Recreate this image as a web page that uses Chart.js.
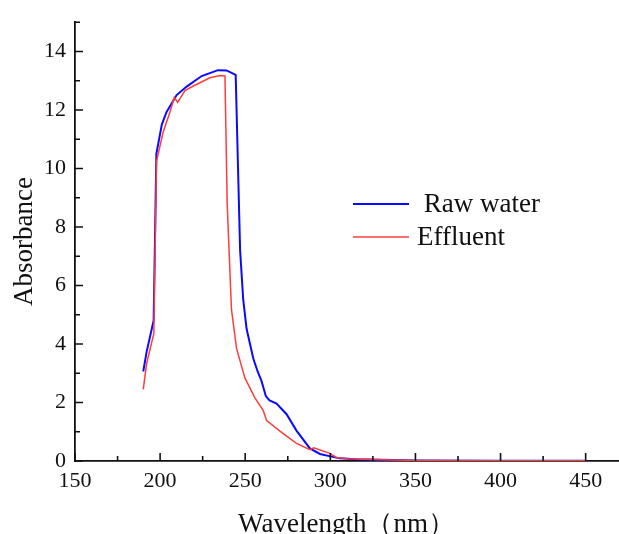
<!DOCTYPE html>
<html>
<head>
<meta charset="utf-8">
<script src="https://cdn.jsdelivr.net/npm/chart.js@4/dist/chart.umd.min.js"></script>
<style>
  html, body { margin: 0; padding: 0; background: #fff; }
  #wrap { width: 619px; height: 534px; }
</style>
</head>
<body>
<div id="wrap"><canvas id="Chart"></canvas></div>
<script>
// values
const rawWl  = [190.1, 192.1, 196.2, 197.8, 201, 203.8, 209.7, 215.6, 224.4, 234, 239, 244.4, 246.3, 247, 248.8, 250.8, 254.7, 257.3, 259.6, 262.1, 264.3, 268.4, 274.3, 280.1, 288, 293.9, 300.7, 305.6, 315, 330, 350, 400, 450];
const rawAbs = [3.06, 3.74, 4.8, 10.5, 11.5, 11.93, 12.51, 12.8, 13.16, 13.36, 13.35, 13.2, 8.8, 7.2, 5.53, 4.52, 3.51, 3.06, 2.73, 2.22, 2.07, 1.96, 1.6, 1.04, 0.43, 0.24, 0.15, 0.09, 0.06, 0.04, 0.02, 0.01, 0.01];

const effWl  = [190.1, 192.1, 196.3, 197.9, 201.8, 205.8, 208.3, 210.3, 214.6, 219.5, 229.3, 235.2, 238.1, 239.4, 240.9, 241.9, 244.9, 249.8, 255.7, 260.6, 262.6, 270.4, 280.1, 288, 290.3, 299.7, 303.6, 310, 330, 350, 400, 450];
const effAbs = [2.45, 3.34, 4.35, 10.24, 11.25, 11.93, 12.43, 12.26, 12.66, 12.82, 13.1, 13.18, 13.16, 8.8, 6.65, 5.19, 3.85, 2.84, 2.16, 1.72, 1.38, 1.02, 0.6, 0.39, 0.45, 0.26, 0.12, 0.08, 0.04, 0.02, 0.01, 0.01];

const xTicks = [150, 200, 250, 300, 350, 400, 450];
const yTicks = [0, 2, 4, 6, 8, 10, 12, 14];

const serif = "'Liberation Serif', 'Times New Roman', serif";

function pts(xs, ys) {
  return xs.map((x, i) => ({ x: x, y: ys[i] }));
}

// small inward tick marks, major and minor
const tickMarks = {
  id: 'tickMarks',
  afterDraw(chart) {
    const ctx = chart.ctx;
    const xs = chart.scales.x, ys = chart.scales.y;
    const area = chart.chartArea;
    ctx.save();
    ctx.strokeStyle = '#111';
    ctx.lineWidth = 1.6;
    ctx.beginPath();
    for (let v = 150; v <= xs.max; v += 25) {
      const px = xs.getPixelForValue(v);
      const len = v % 50 === 0 ? 8 : 5;
      ctx.moveTo(px, area.bottom);
      ctx.lineTo(px, area.bottom - len);
    }
    for (let v = 0; v <= ys.max; v += 1) {
      const py = ys.getPixelForValue(v);
      const len = v % 2 === 0 ? 8 : 5;
      ctx.moveTo(area.left, py);
      ctx.lineTo(area.left + len, py);
    }
    ctx.stroke();
    ctx.restore();
  }
};

// legend sitting inside the plot
const innerLegend = {
  id: 'innerLegend',
  afterDraw(chart) {
    const ctx = chart.ctx;
    const rows = [
      { y: 204, tx: 417 },
      { y: 237, tx: 417 }
    ];
    ctx.save();
    ctx.font = '27px ' + serif;
    ctx.textBaseline = 'middle';
    ctx.fillStyle = '#111';
    chart.data.datasets.forEach((ds, i) => {
      const r = rows[i];
      ctx.strokeStyle = ds.borderColor;
      ctx.lineWidth = ds.borderWidth;
      ctx.beginPath();
      ctx.moveTo(353, r.y);
      ctx.lineTo(409, r.y);
      ctx.stroke();
      ctx.fillText(ds.label, r.tx, r.y + 1);
    });
    ctx.restore();
  }
};

new Chart("Chart", {
  type: "line",
  data: {
    datasets: [{
      label: " Raw water",
      data: pts(rawWl, rawAbs),
      borderColor: "rgb(10,10,255)",
      borderWidth: 2,
      pointRadius: 0,
      tension: 0,
      order: 1
    }, {
      label: "Effluent",
      data: pts(effWl, effAbs),
      borderColor: "rgb(255,60,60)",
      borderWidth: 1.5,
      pointRadius: 0,
      tension: 0,
      order: 0
    }]
  },
  options: {
    responsive: true,
    maintainAspectRatio: false,
    animation: false,
    layout: { padding: { top: 15, right: 1, left: 0, bottom: 0 } },
    plugins: {
      legend: { display: false },
      tooltip: { enabled: false }
    },
    scales: {
      x: {
        type: "linear",
        min: 150,
        max: 469,
        afterFit(scale) { scale.height = 73; },
        afterBuildTicks(scale) { scale.ticks = xTicks.map(v => ({ value: v })); },
        grid: { display: false, drawTicks: false },
        border: { display: true, color: "#111", width: 1.8 },
        ticks: {
          includeBounds: false,
          padding: 7,
          color: "#111",
          font: { family: serif, size: 22 }
        },
        title: {
          display: true,
          text: "Wavelength（nm）",
          color: "#111",
          padding: { top: 0, bottom: -4 },
          font: { family: serif, size: 27, lineHeight: 1 }
        }
      },
      y: {
        min: 0,
        max: 15,
        afterFit(scale) { scale.width = 75; },
        afterBuildTicks(scale) { scale.ticks = yTicks.map(v => ({ value: v })); },
        grid: { display: false, drawTicks: false },
        border: { display: true, color: "#111", width: 1.8 },
        ticks: {
          includeBounds: false,
          padding: 9,
          color: "#111",
          font: { family: serif, size: 22 }
        },
        title: {
          display: true,
          text: "Absorbance",
          color: "#111",
          padding: { top: 11, bottom: 0 },
          font: { family: serif, size: 27, lineHeight: 1 }
        }
      }
    }
  },
  plugins: [tickMarks, innerLegend]
});
</script>
</body>
</html>
